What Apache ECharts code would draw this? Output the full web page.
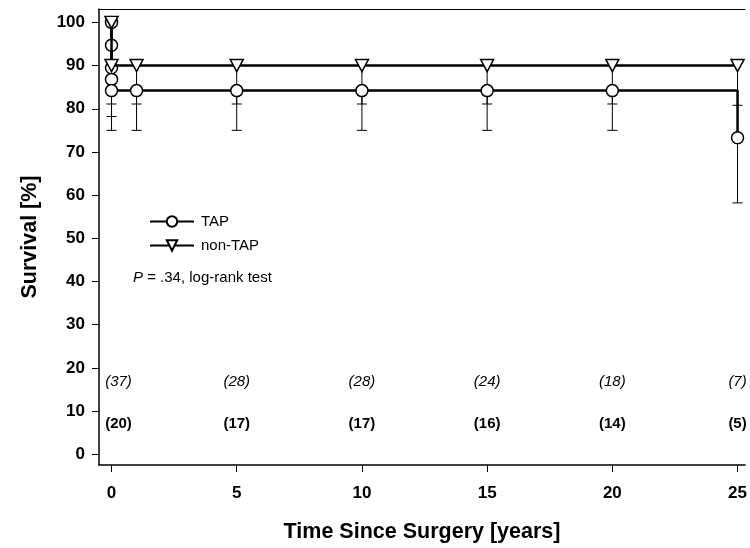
<!DOCTYPE html>
<html><head><meta charset="utf-8">
<script src="https://cdn.jsdelivr.net/npm/echarts@6/dist/echarts.min.js"></script>
<style>html,body{margin:0;padding:0;background:#fff}#c{width:750px;height:548px}</style>
</head><body><div id="c"></div>
<script>
// ---- data ----
const xTicks = [0, 5, 10, 15, 20, 25];
const yTicks = [0, 10, 20, 30, 40, 50, 60, 70, 80, 90, 100];

const tapTimes  = [0, 0, 0, 0, 0, 1, 5, 10, 15, 20, 25, 25];
const tapSurv   = [100, 94.7, 89.5, 86.8, 84.2, 84.2, 84.2, 84.2, 84.2, 84.2, 84.2, 73.3];
const tapMarked = [1, 1, 1, 1, 1, 1, 1, 1, 1, 1, 0, 1];

const nonTapTimes = [0, 0, 1, 5, 10, 15, 20, 25];
const nonTapSurv  = [100, 90, 90, 90, 90, 90, 90, 90];

const tapErrTimes = [0, 0, 1, 5, 10, 15, 20, 25];
const tapErrHigh  = [86.8, 84.2, 84.2, 84.2, 84.2, 84.2, 84.2, 73.3];
const tapErrLow   = [78.2, 75.0, 75.0, 75.0, 75.0, 75.0, 75.0, 58.2];

const nonTapErrTimes = [0, 1, 5, 10, 15, 20, 25];
const nonTapErrHigh  = [90, 90, 90, 90, 90, 90, 90];
const nonTapErrLow   = [81.1, 81.1, 81.1, 81.1, 81.1, 81.1, 80.8];

const riskTimes  = [0, 5, 10, 15, 20, 25];
const riskNonTap = [37, 28, 28, 24, 18, 7];
const riskTap    = [20, 17, 17, 16, 14, 5];

// ---- build ----
const FONT = 'Liberation Sans, Arial, sans-serif';
const triDown = 'path://M0,0 L12,0 L6,11 Z';

function errRender(params, api) {
  const x = api.value(0), hi = api.value(1), lo = api.value(2);
  const p1 = api.coord([x, hi]), p2 = api.coord([x, lo]);
  const w = 5;
  return {type: 'group', children: [
    {type: 'line', shape: {x1: p1[0], y1: p1[1], x2: p2[0], y2: p2[1]}, style: {stroke: '#000', lineWidth: 1}},
    {type: 'line', shape: {x1: p2[0] - w, y1: p2[1], x2: p2[0] + w, y2: p2[1]}, style: {stroke: '#000', lineWidth: 1}}
  ]};
}

const tapData = tapTimes.map((t, i) => tapMarked[i] ? [t, tapSurv[i]] : {value: [t, tapSurv[i]], symbol: 'none'});
const nonTapData = nonTapTimes.map((t, i) => [t, nonTapSurv[i]]);

const riskRow = (vals, y, style) => ({
  type: 'scatter', symbolSize: 0, silent: true, z: 5,
  itemStyle: {opacity: 1, color: '#000'},
  data: riskTimes.map((t, i) => ({
    value: [t, y, '(' + vals[i] + ')'],
    label: i === 0 ? {offset: [7, 0]} : undefined
  })),
  label: Object.assign({show: true, position: 'inside', formatter: p => p.value[2],
    color: '#000', opacity: 1, fontFamily: FONT, fontSize: 15}, style)
});

const chart = echarts.init(document.getElementById('c'), null, {renderer: 'canvas'});
chart.setOption({
  backgroundColor: '#fff',
  animation: false,
  grid: {left: 99, right: 1, top: 9, bottom: 79},
  legend: {
    orient: 'vertical', left: 144, top: 209, itemWidth: 44, itemHeight: 13, itemGap: 9,
    data: ['TAP', 'non-TAP'],
    textStyle: {color: '#000', fontFamily: FONT, fontSize: 15, padding: [0, 0, 0, 2]}
  },
  xAxis: [{
    type: 'value', min: -0.5, max: 25.3, position: 'bottom',
    axisLine: {onZero: false, lineStyle: {color: '#000', width: 1.5}},
    axisTick: {customValues: xTicks, length: 7, lineStyle: {color: '#000', width: 1}},
    axisLabel: {customValues: xTicks, margin: 20, color: '#000', fontFamily: FONT, fontSize: 17, fontWeight: 'bold'},
    splitLine: {show: false},
    name: 'Time Since Surgery [years]', nameLocation: 'middle', nameGap: 56,
    nameTextStyle: {color: '#000', fontFamily: FONT, fontSize: 21.5, fontWeight: 'bold'}
  }, {
    type: 'value', min: -0.5, max: 25.3, position: 'top',
    axisLine: {onZero: false, lineStyle: {color: '#000', width: 1}},
    axisTick: {show: false}, axisLabel: {show: false}, splitLine: {show: false}
  }],
  yAxis: {
    type: 'value', min: -2.5, max: 103.1,
    axisLine: {onZero: false, lineStyle: {color: '#000', width: 1.5}},
    axisTick: {customValues: yTicks, length: 7, lineStyle: {color: '#000', width: 1}},
    axisLabel: {customValues: yTicks, margin: 14, color: '#000', fontFamily: FONT, fontSize: 17, fontWeight: 'bold'},
    splitLine: {show: false},
    name: 'Survival [%]', nameLocation: 'middle', nameGap: 58, nameRotate: 90,
    nameTextStyle: {color: '#000', fontFamily: FONT, fontSize: 21.5, fontWeight: 'bold'}
  },
  graphic: [{
    type: 'text', left: 133, top: 270,
    style: {
      text: '{i|P} = .34, log-rank test',
      font: '15px ' + FONT, fill: '#000',
      rich: {i: {fontStyle: 'italic', fontFamily: FONT, fontSize: 15, fill: '#000'}}
    }
  }],
  series: [
    {type: 'custom', name: 'errTap', renderItem: errRender, z: 1, silent: true,
     encode: {x: 0, y: [1, 2]},
     data: tapErrTimes.map((t, i) => [t, tapErrHigh[i], tapErrLow[i]])},
    {type: 'custom', name: 'errNonTap', renderItem: errRender, z: 1, silent: true,
     encode: {x: 0, y: [1, 2]},
     data: nonTapErrTimes.map((t, i) => [t, nonTapErrHigh[i], nonTapErrLow[i]])},
    {type: 'line', name: 'TAP', data: tapData, z: 3,
     symbol: 'circle', symbolSize: 12, showAllSymbol: true,
     lineStyle: {color: '#000', width: 2.5},
     itemStyle: {color: '#fff', borderColor: '#000', borderWidth: 1.5}},
    {type: 'line', name: 'non-TAP', data: nonTapData, z: 4,
     symbol: triDown, symbolSize: [13, 12], showAllSymbol: true,
     lineStyle: {color: '#000', width: 2.5},
     itemStyle: {color: '#fff', borderColor: '#000', borderWidth: 1.5}},
    riskRow(riskNonTap, 16.8, {fontStyle: 'italic'}),
    riskRow(riskTap, 7.1, {fontWeight: 'bold'})
  ]
});
</script></body></html>
